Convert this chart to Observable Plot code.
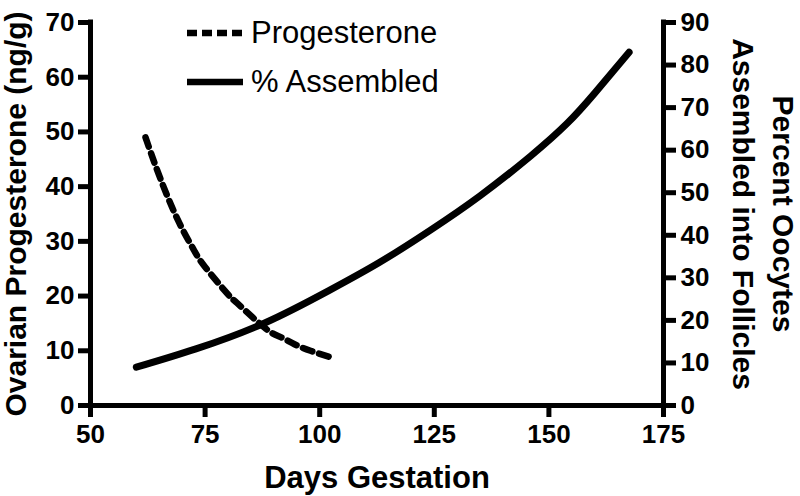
<!DOCTYPE html>
<html>
<head>
<meta charset="utf-8">
<script src="https://cdn.jsdelivr.net/npm/d3@7"></script>
<script src="https://cdn.jsdelivr.net/npm/@observablehq/plot@0.6"></script>
<style>
  html, body { margin: 0; padding: 0; background: white; }
  #chart { width: 800px; height: 496px; }
</style>
</head>
<body>
<div id="chart"></div>
<script>
// ---- Data ----
const progDays   = [62, 65, 69, 72.5, 75, 80, 82, 88, 91.5, 94.5, 98, 102.5];
const progValues = [49, 42, 34, 28.5, 25.3, 20.3, 18.7, 14.2, 12.5, 11.2, 10.0, 8.8];   // ng/g (left axis)

const asmDays    = [60, 73, 88, 102, 113, 124, 135, 146, 154, 160, 167.5];
const asmPercent = [9.0, 13.3, 19.4, 27.0, 33.6, 41.1, 49.3, 58.6, 66.3, 73.4, 83.0]; // % (right axis)

const xTicks     = [50, 75, 100, 125, 150, 175];
const leftTicks  = [0, 10, 20, 30, 40, 50, 60, 70];
const rightTicks = [0, 10, 20, 30, 40, 50, 60, 70, 80, 90];

const xLabel      = "Days Gestation";
const yLeftLabel  = "Ovarian Progesterone (ng/g)";
const yRightLabel = "Percent Oocytes\nAssembled into Follicles";
const seriesNames = ["Progesterone", "% Assembled"];

// ---- Build ----
const leftMax = 70, rightMax = 90;
const k = leftMax / rightMax;
const prog = progDays.map((d, i) => ({day: d, value: progValues[i]}));
const asm  = asmDays.map((d, i) => ({day: d, value: asmPercent[i]}));
const font = "'Liberation Sans', Arial, Helvetica, sans-serif";

const chart = Plot.plot({
  width: 800,
  height: 496,
  marginLeft: 90,
  marginRight: 137,
  marginTop: 22,
  marginBottom: 91,
  style: {fontFamily: font, background: "white", color: "black", overflow: "visible"},
  x: {domain: [50, 175]},
  y: {domain: [0, leftMax]},
  marks: [
    Plot.axisX(xTicks, {tickSize: 12, strokeWidth: 5, tickPadding: 7, fontSize: 26, fontWeight: "bold", label: null}),
    Plot.axisY(leftTicks, {anchor: "left", tickSize: 12, strokeWidth: 5, tickPadding: 4, fontSize: 26, fontWeight: "bold", label: null}),
    Plot.axisY(rightTicks, {anchor: "right", y: d => d * k, tickFormat: d => String(d), tickSize: 12, strokeWidth: 5, tickPadding: 5, fontSize: 26, fontWeight: "bold", label: null}),
    Plot.ruleX([50], {strokeWidth: 5, strokeLinecap: "square"}),
    Plot.ruleX([175], {strokeWidth: 5, strokeLinecap: "square"}),
    Plot.ruleY([0], {strokeWidth: 5, strokeLinecap: "square"}),
    Plot.line(prog, {x: "day", y: "value", strokeWidth: 6.5, strokeDasharray: "10,7", curve: "natural"}),
    Plot.line(asm, {x: "day", y: d => d.value * k, strokeWidth: 7, curve: "natural"}),
    Plot.text([yLeftLabel], {text: d => d, frameAnchor: "left", textAnchor: "middle", lineAnchor: "middle", rotate: -90, dx: -74, fontSize: 30, fontWeight: "bold"}),
    Plot.text([yRightLabel], {text: d => d, frameAnchor: "right", textAnchor: "middle", lineAnchor: "middle", rotate: 90, dx: 102, fontSize: 30, fontWeight: "bold", lineHeight: 1.32}),
    Plot.text([xLabel], {text: d => d, frameAnchor: "bottom", textAnchor: "middle", lineAnchor: "middle", dy: 73, fontSize: 31, fontWeight: "bold"})
  ]
});

document.getElementById("chart").appendChild(chart);

// ---- Legend (inside plot area, top-left) ----
const svg = d3.select(chart);
const lg = svg.append("g")
  .attr("font-family", font)
  .attr("font-size", 31)
  .attr("text-anchor", "start");
const legendItems = [
  {name: seriesNames[0], dash: "10,5", y: 33, ty: 43},
  {name: seriesNames[1], dash: null,   y: 82, ty: 92}
];
legendItems.forEach(it => {
  lg.append("line")
    .attr("x1", 187).attr("x2", 243)
    .attr("y1", it.y).attr("y2", it.y)
    .attr("stroke", "black").attr("stroke-width", 6.5)
    .attr("stroke-dasharray", it.dash);
  lg.append("text")
    .attr("x", 251).attr("y", it.ty)
    .attr("fill", "black")
    .text(it.name);
});
</script>
</body>
</html>
